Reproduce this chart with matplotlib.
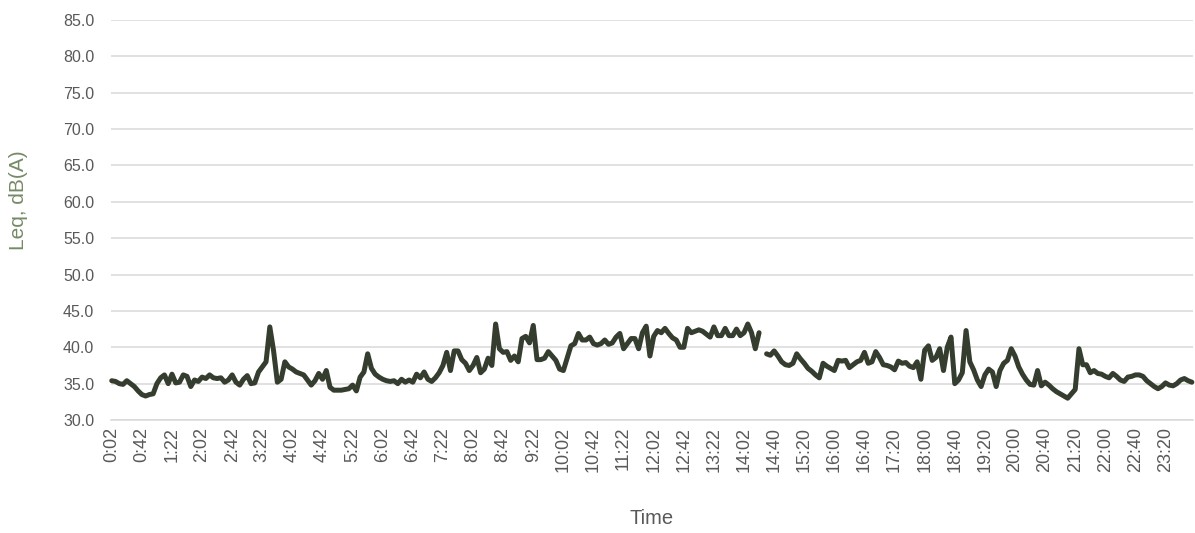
import matplotlib
matplotlib.use("Agg")
import matplotlib.pyplot as plt
import numpy as np

plt.rcParams['font.family'] = ['Liberation Sans', 'DejaVu Sans']

# ---- data -------------------------------------------------------------
# 5-minute Leq readings over 24 h (index 173 missing -> gap in line)
leq_part1 = [
    35.4, 35.3, 35.0, 34.9, 35.4, 35.0, 34.6, 34.0, 33.5, 33.3, 33.5, 33.6,
    35.0, 35.8, 36.2, 35.0, 36.3, 35.1, 35.2, 36.2, 36.0, 34.6, 35.5, 35.3,
    35.9, 35.7, 36.2, 35.8, 35.7, 35.8, 35.2, 35.5, 36.2, 35.2, 34.8, 35.6,
    36.1, 35.0, 35.1, 36.6, 37.3, 38.0, 42.8, 39.5, 35.2, 35.6, 38.0, 37.3,
    37.0, 36.6, 36.4, 36.2, 35.5, 34.8, 35.4, 36.4, 35.6, 36.8, 34.5, 34.1,
    34.1, 34.1, 34.2, 34.3, 34.8, 34.0, 35.9, 36.6, 39.1, 37.1, 36.3, 35.9,
    35.6, 35.4, 35.3, 35.4, 35.0, 35.6, 35.2, 35.5, 35.2, 36.3, 35.8, 36.6,
    35.6, 35.3, 35.8, 36.5, 37.5, 39.3, 36.8, 39.5, 39.5, 38.3, 37.8, 36.8,
    37.5, 38.6, 36.5, 37.0, 38.5, 37.5, 43.2, 39.8, 39.3, 39.4, 38.2, 38.8,
    38.0, 41.2, 41.5, 40.6, 43.0, 38.3, 38.3, 38.5, 39.4, 38.8, 38.2, 37.0,
    36.8, 38.5, 40.2, 40.5, 41.9, 41.0, 41.0, 41.4, 40.5, 40.3, 40.5, 41.0,
    40.4, 40.6, 41.4, 41.9, 39.8, 40.5, 41.2, 41.2, 39.8, 42.0, 42.9, 38.8,
    41.5, 42.3, 42.0, 42.6, 41.9, 41.3, 41.0, 40.0, 40.0, 42.6, 42.0, 42.2,
    42.4, 42.2, 41.8, 41.4, 42.8, 41.6, 41.6, 42.6, 41.6, 41.6, 42.5, 41.6,
    42.0, 43.2, 42.0, 39.8, 42.0,
]
leq_part2 = [
    39.1, 38.9, 39.5, 38.8, 38.0, 37.6, 37.5, 37.8, 39.1, 38.4, 37.8, 37.1,
    36.7, 36.2, 35.8, 37.8, 37.4, 37.1, 36.8, 38.2, 38.1, 38.2, 37.2, 37.6,
    38.0, 38.2, 39.3, 37.8, 38.0, 39.4, 38.6, 37.6, 37.5, 37.3, 36.9, 38.1,
    37.8, 37.9, 37.4, 37.2, 38.0, 35.6, 39.6, 40.2, 38.2, 38.6, 39.8, 36.8,
    40.0, 41.4, 35.0, 35.5, 36.5, 42.3, 38.0, 36.9, 35.5, 34.6, 36.2, 37.0,
    36.6, 34.6, 36.8, 37.8, 38.2, 39.8, 38.8, 37.3, 36.3, 35.5, 34.9, 34.8,
    36.8, 34.7, 35.2, 34.8, 34.3, 33.9, 33.6, 33.3, 33.0, 33.6, 34.2, 39.8,
    37.6, 37.6, 36.5, 36.8, 36.4, 36.3, 36.0, 35.8, 36.4, 36.0, 35.5, 35.3,
    35.9, 36.0, 36.2, 36.2, 36.0, 35.4, 35.0, 34.6, 34.3, 34.6, 35.1, 34.8,
    34.7, 35.0, 35.5, 35.7, 35.4, 35.2,
]
leq = np.array(leq_part1 + [np.nan] + leq_part2, dtype=float)

# category (time) labels
start1_min = 2             # 0:02
start2_min = 14 * 60 + 25  # 14:25 onward
n1 = len(leq_part1)
times = []
for i in range(len(leq)):
    m = start1_min + 5 * i if i < n1 else start2_min + 5 * (i - n1)
    times.append(f"{m // 60}:{m % 60:02d}")

y_ticks = [30, 35, 40, 45, 50, 55, 60, 65, 70, 75, 80, 85]
tick_step = 8
x_title = "Time"
y_title = "Leq, dB(A)"

# ---- plot -------------------------------------------------------------
fig = plt.figure(figsize=(11.95, 5.33), dpi=100)
ax = fig.add_axes([111 / 1195, 1 - 420 / 533, 1082 / 1195, 400 / 533])

x = np.arange(len(leq))
ax.plot(x, leq, color='#353D2F', lw=3.6, solid_joinstyle='round',
        solid_capstyle='round', clip_on=False, zorder=3)

ax.set_xlim(-0.2, len(leq) - 1 + 0.3)
ax.set_ylim(30, 85)
ax.set_yticks(y_ticks)
ax.set_yticklabels([f"{v:.1f}" for v in y_ticks])
ax.yaxis.grid(True, color='#D9D9D9', lw=1.1)
ax.set_axisbelow(True)

ticks = x[::tick_step]
ax.set_xticks(ticks)
ax.set_xticklabels([times[i] for i in ticks], rotation=90)

for s in ['top', 'right', 'left']:
    ax.spines[s].set_visible(False)
ax.spines['bottom'].set_color('#D9D9D9')
ax.spines['bottom'].set_linewidth(1.1)

ax.tick_params(axis='both', length=0, colors='#595959')
ax.tick_params(axis='y', labelsize=11.5, pad=12)
ax.tick_params(axis='x', labelsize=13, pad=5)

ax.set_xlabel(x_title, fontsize=14.5, color='#595959', va='center')
ax.xaxis.set_label_coords((652 - 111) / 1082, (420 - 518) / 400)
ax.set_ylabel(y_title, fontsize=15, color='#768A66', va='center')
ax.yaxis.set_label_coords((19 - 111) / 1082, (420 - 200) / 400)

fig.savefig("out.png", dpi=100)
